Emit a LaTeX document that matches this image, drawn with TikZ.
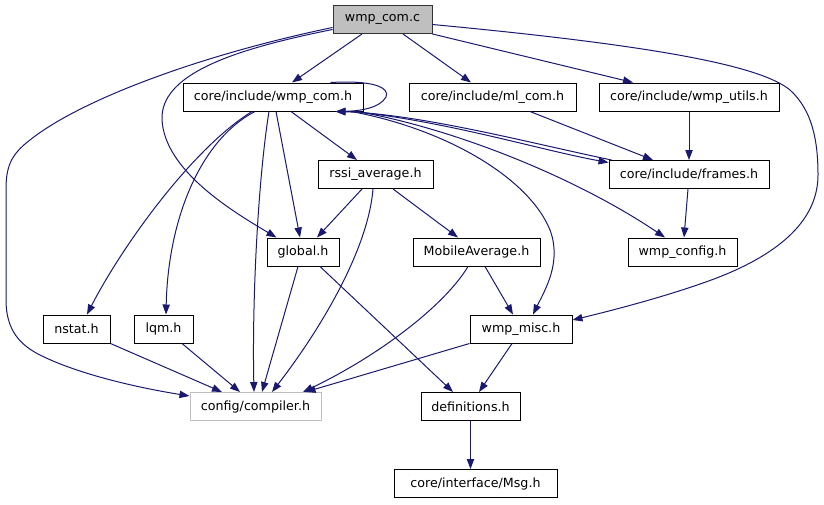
\documentclass[tikz,border=0pt]{standalone}
\usepackage{fontspec}
\setmainfont{DejaVu Sans}
\usetikzlibrary{arrows.meta,calc}
\definecolor{navy}{HTML}{191970}
\definecolor{rootfill}{HTML}{BFBFBF}
\definecolor{lightborder}{HTML}{BFBFBF}
\begin{document}
\begin{tikzpicture}[x=0.75pt,y=-0.75pt,
  box/.style={draw=black, line width=0.75pt, fill=white, inner sep=0pt,
    minimum height=21pt, font=\fontsize{9.5}{11}\selectfont},
  rootbox/.style={box, fill=rootfill, draw=black!80},
  greybox/.style={box, draw=lightborder},
  dep/.style={draw=navy, line width=0.75pt, -{Triangle[length=7.5pt,width=5.5pt]}}]
\useasboundingbox (0,0) rectangle (824,504);
% nodes
\node[rootbox, minimum width=99*0.75pt] (c) at (382.5,19.5) {wmp\_com.c};
\node[box, minimum width=180*0.75pt] (wcomh) at (273,97) {core/include/wmp\_com.h};
\node[box, minimum width=167*0.75pt] (mlcom) at (492.5,97) {core/include/ml\_com.h};
\node[box, minimum width=180*0.75pt] (utils) at (689,97) {core/include/wmp\_utils.h};
\node[box, minimum width=115*0.75pt] (rssi) at (375.5,174.5) {rssi\_average.h};
\node[box, minimum width=160*0.75pt] (frames) at (689,174.5) {core/include/frames.h};
\node[box, minimum width=72*0.75pt] (global) at (303,252) {global.h};
\node[box, minimum width=127*0.75pt] (mobile) at (476.5,252) {MobileAverage.h};
\node[box, minimum width=109*0.75pt] (config) at (682.5,252) {wmp\_config.h};
\node[box, minimum width=67*0.75pt] (nstat) at (76.5,329) {nstat.h};
\node[box, minimum width=59*0.75pt] (lqm) at (163.5,329) {lqm.h};
\node[box, minimum width=102*0.75pt] (misc) at (521,329) {wmp\_misc.h};
\node[greybox, minimum width=131*0.75pt] (compiler) at (255.5,406.5) {config/compiler.h};
\node[box, minimum width=99*0.75pt] (defs) at (470.5,406.5) {definitions.h};
\node[box, minimum width=163*0.75pt] (msg) at (475.5,483.5) {core/interface/Msg.h};
% edges from wmp_com.c
\draw[dep] ($(c.south)+(-20.5,0)$) -- ($(wcomh.north)+(19,0)$);
\draw[dep] ($(c.south)+(20.5,0)$) -- ($(mlcom.north)+(-21.5,0)$);
\draw[dep] (c.south east) -- ($(utils.north)+(-56,0)$);
\draw[dep] ($(c.east)+(0,5)$) .. controls (650,45) and (760,65) .. (790,90)
  .. controls (812,110) and (818,140) .. (818,175)
  .. controls (818,228) and (765,262) .. (700,284)
  .. controls (660,298) and (610,311) .. ($(misc.east)+(0,-9)$);
\draw[dep] ($(c.west)+(0,10)$) .. controls (230,50) and (160,75) .. (162,120)
  .. controls (165,170) and (230,210) .. ($(global.north west)+(10,0)$);
\draw[dep] ($(c.west)+(0,8)$) .. controls (200,55) and (80,100) .. (30,140)
  .. controls (10,155) and (6,168) .. (6,190) -- (6,300)
  .. controls (6,330) and (20,345) .. (40,355)
  .. controls (80,375) and (140,388) .. ($(compiler.west)+(0,-10.5)$);
% edges from core/include/wmp_com.h
\draw[dep] ($(wcomh.north east)+(-33,0)$) .. controls (375,80) and (390,88) .. (386,97)
  .. controls (380,108) and (360,111) .. ($(wcomh.south east)+(-28,0)$);
\draw[dep] ($(frames.north west)+(3,0)$) .. controls (530,143) and (420,114) .. ($(wcomh.south east)+(-28,0)$);
\draw[dep] ($(wcomh.south east)+(-10,0)$) .. controls (450,122) and (540,150) .. ($(frames.west)+(0,-12)$);
\draw[dep] ($(wcomh.south east)+(-6,0)$) .. controls (460,130) and (580,180) .. ($(config.north)+(-17.5,0)$);
\draw[dep] ($(wcomh.south east)+(-12,0)$) .. controls (450,130) and (530,180) .. (550,230)
  .. controls (562,262) and (545,290) .. ($(misc.north)+(12,0)$);
\draw[dep] ($(wcomh.south)+(18,0)$) -- ($(rssi.north)+(-18.5,0)$);
\draw[dep] ($(wcomh.south)+(3,0)$) -- ($(global.north)+(-3,0)$);
\draw[dep] ($(wcomh.south)+(-4,0)$) .. controls (258,180) and (252,300) .. ($(compiler.north)+(-1.5,0)$);
\draw[dep] ($(wcomh.south)+(-21,0)$) .. controls (190,150) and (120,250) .. ($(nstat.north)+(10.5,0)$);
\draw[dep] ($(wcomh.south)+(-18,0)$) .. controls (200,140) and (168,220) .. ($(lqm.north)+(2.5,0)$);
% other edges
\draw[dep] ($(mlcom.south)+(37.5,0)$) -- ($(frames.north)+(-36,0)$);
\draw[dep] (utils.south) -- (frames.north);
\draw[dep] ($(frames.south)+(-1,0)$) -- ($(config.north)+(1.5,0)$);
\draw[dep] ($(rssi.south)+(-13.5,0)$) -- ($(global.north)+(14,0)$);
\draw[dep] ($(rssi.south)+(-2.5,0)$) .. controls (368,250) and (320,330) .. ($(compiler.north)+(16.5,0)$);
\draw[dep] ($(rssi.south)+(17.5,0)$) -- ($(mobile.north)+(-18.5,0)$);
\draw[dep] ($(global.south)+(-5,0)$) -- ($(compiler.north)+(6.5,0)$);
\draw[dep] ($(global.south)+(17,0)$) -- ($(defs.north)+(-17.5,0)$);
\draw[dep] ($(mobile.south)+(8.5,0)$) -- ($(misc.north)+(-8,0)$);
\draw[dep] ($(mobile.south)+(-8.5,0)$) .. controls (445,305) and (380,355) .. ($(compiler.north)+(47.5,0)$);
\draw[dep] (misc.south west) -- ($(compiler.north)+(50,0)$);
\draw[dep] ($(misc.south)+(-9,0)$) -- ($(defs.north)+(8.5,0)$);
\draw[dep] (defs.south) -- (defs.south |- msg.north);
\draw[dep] (nstat.south east) -- ($(compiler.north)+(-33.5,0)$);
\draw[dep] ($(lqm.south)+(18.5,0)$) -- ($(compiler.north)+(-15.5,0)$);
\end{tikzpicture}
\end{document}
